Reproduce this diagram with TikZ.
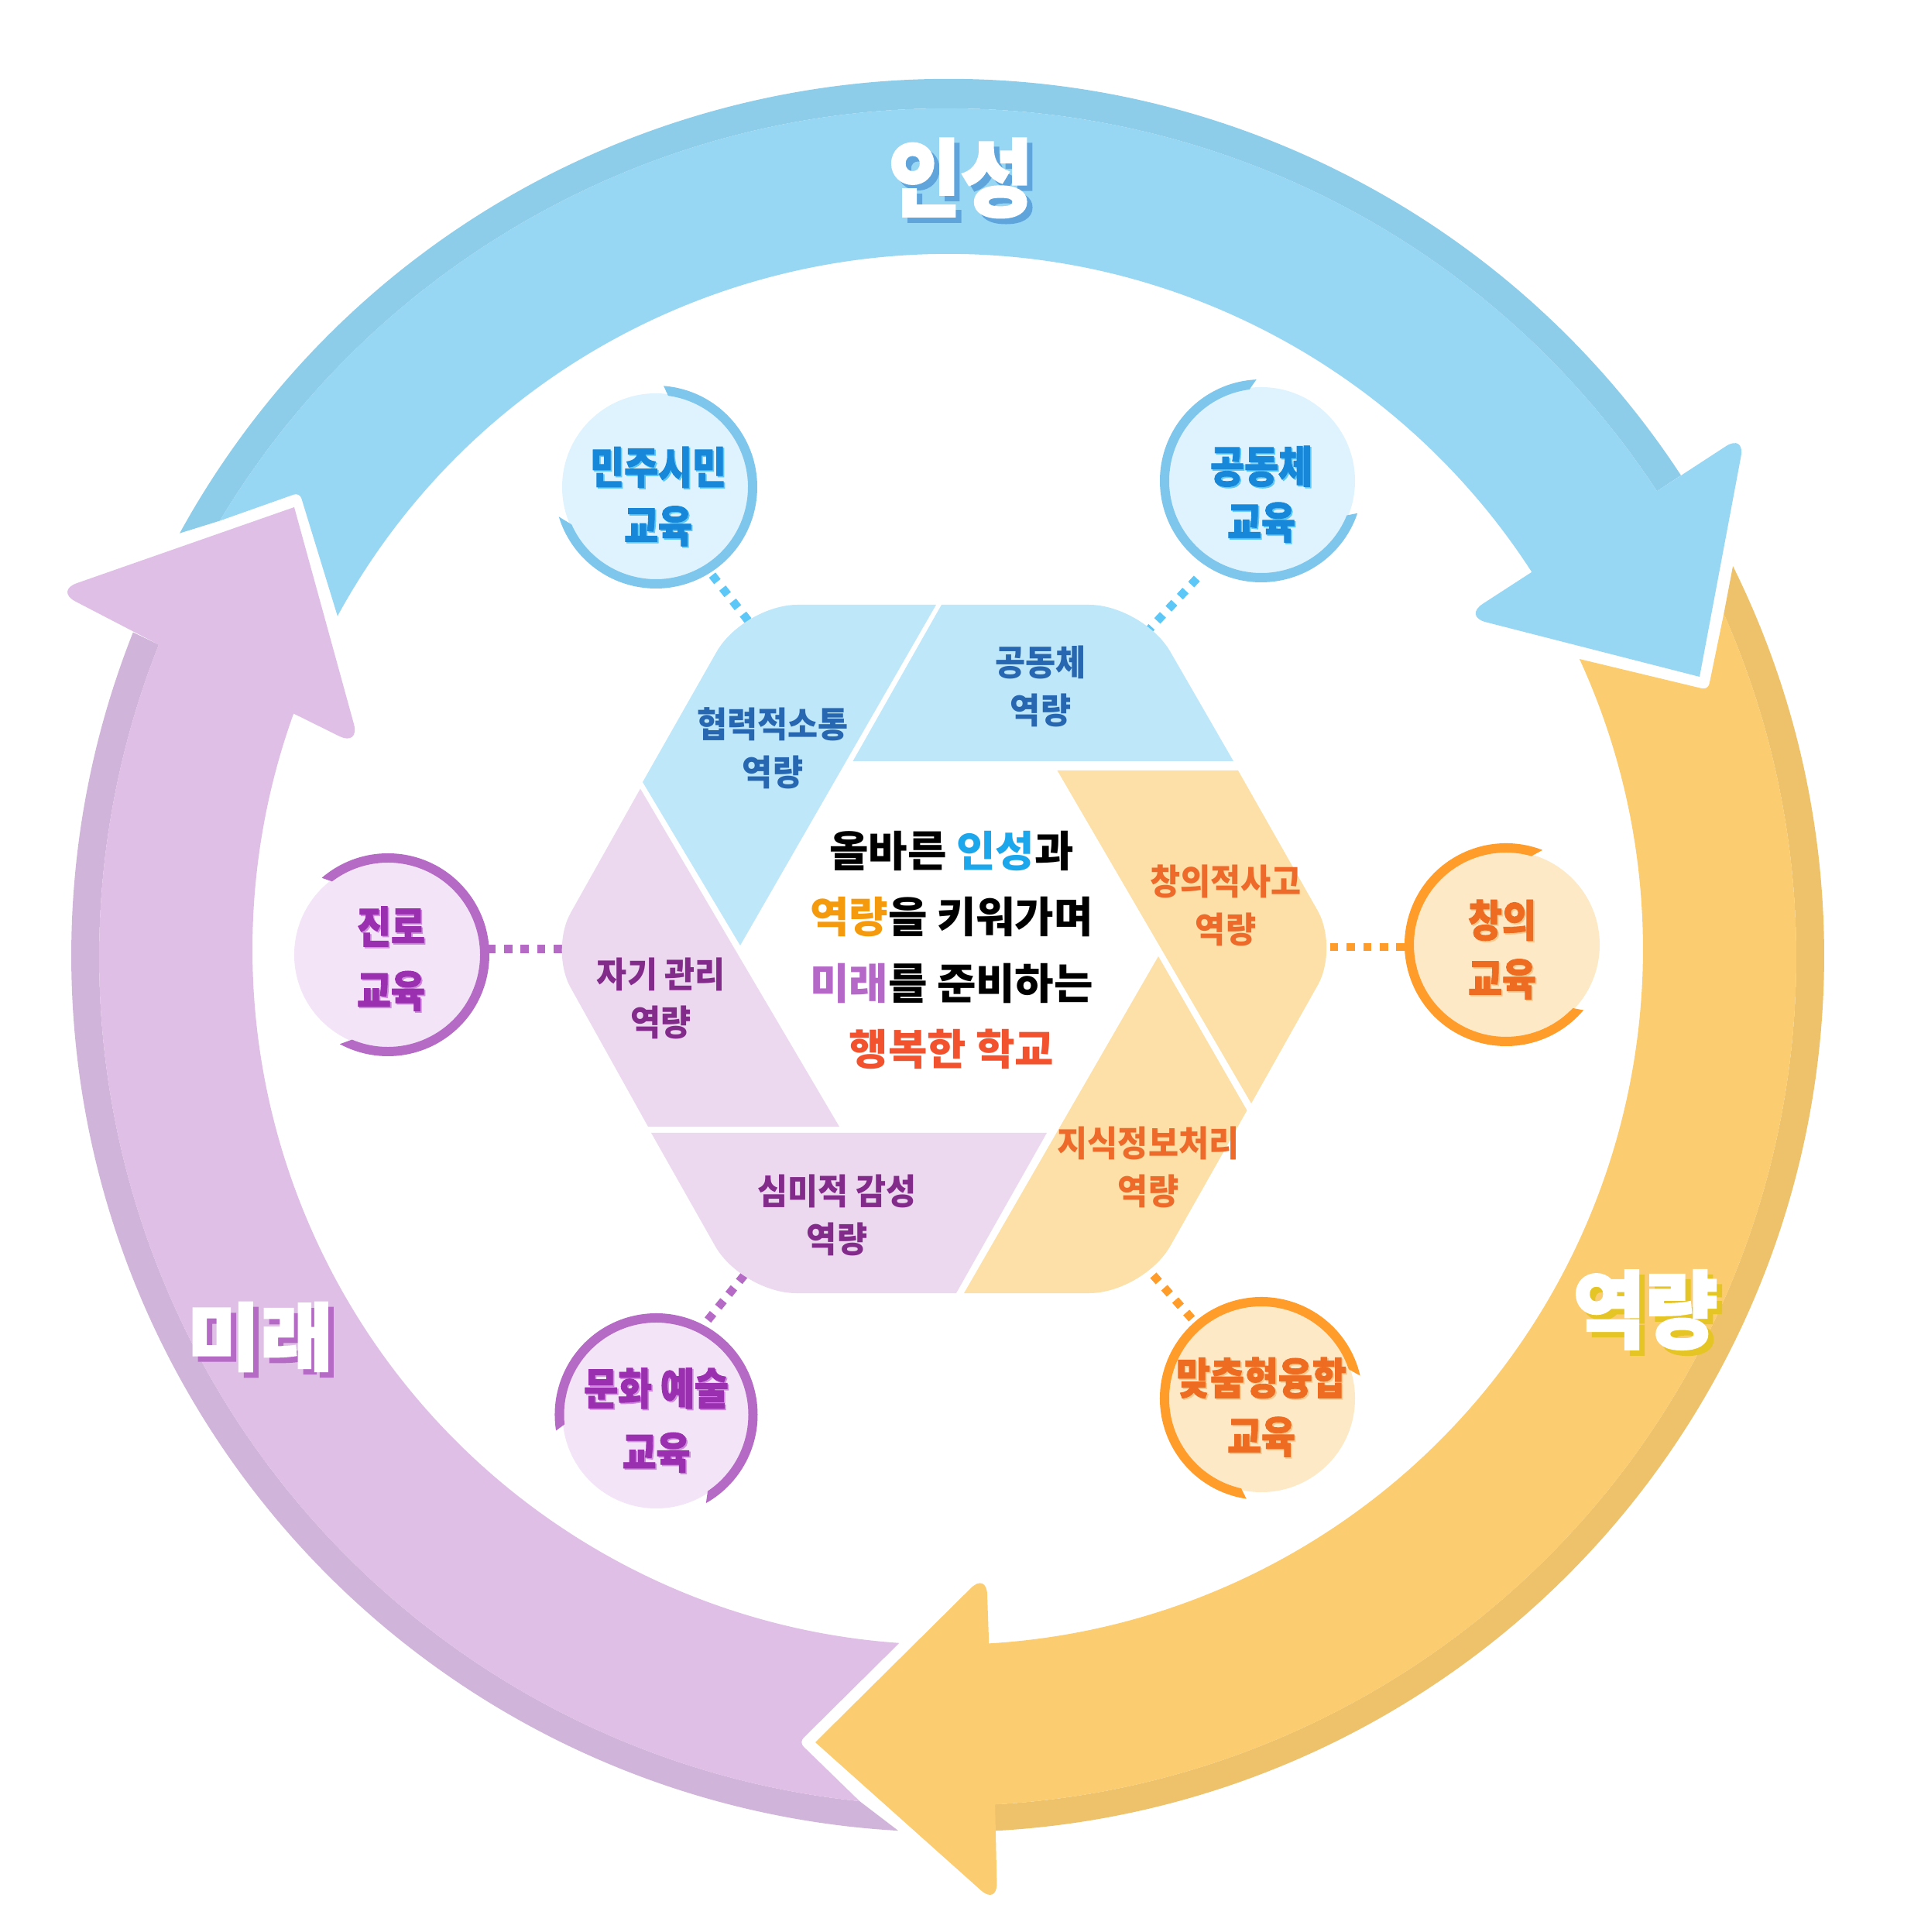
\documentclass[tikz,border=0pt]{standalone}
\usepackage{fontspec}
\setmainfont{Noto Sans CJK KR}
\newfontfamily\krtitle[FakeStretch=.93,FakeBold=2.5]{Noto Sans CJK KR}
\newfontfamily\krtitlewide[FakeStretch=1.08,FakeBold=2.5]{Noto Sans CJK KR}
\newfontfamily\krcirc[FakeStretch=.85,FakeBold=1.5]{Noto Sans CJK KR}
\newfontfamily\krhex[FakeStretch=.93]{Noto Sans CJK KR}
\newfontfamily\krmain{Noto Sans CJK KR}
\definecolor{bluebody}{HTML}{97D7F4}
\definecolor{bluedark}{HTML}{8ECDE9}
\definecolor{yellowbody}{HTML}{FBCC70}
\definecolor{yellowdark}{HTML}{EEC26B}
\definecolor{purplebody}{HTML}{DFBFE6}
\definecolor{purpledark}{HTML}{D1B4DA}
\definecolor{hexblue}{HTML}{BEE7F9}
\definecolor{hexorange}{HTML}{FCE0A8}
\definecolor{hexpurple}{HTML}{ECD9F0}
\definecolor{ringblue}{HTML}{7FC6EC}
\definecolor{ringorange}{HTML}{FF9C2A}
\definecolor{ringpurple}{HTML}{B56BC6}
\definecolor{dotblue}{HTML}{5DC7F8}
\definecolor{circblue}{HTML}{DFF3FE}
\definecolor{circorange}{HTML}{FDE9C6}
\definecolor{circpurple}{HTML}{F3E4F7}
\definecolor{labelblue}{HTML}{1687D9}
\definecolor{labelorange}{HTML}{EE6C22}
\definecolor{labelpurple}{HTML}{9A2FB0}
\definecolor{hexlabelblue}{HTML}{2766B0}
\definecolor{hexlabelorange}{HTML}{EE6A2A}
\definecolor{hexlabelpurple}{HTML}{832B8A}
\definecolor{shadeorange}{HTML}{F9C98E}
\definecolor{shadepurple}{HTML}{CE8BDD}
\definecolor{titleshadeblue}{HTML}{5FA5DC}
\definecolor{titleshadeyellow}{HTML}{E5C526}
\tikzstyle{cin} = [shift={(0,.06)}]
\tikzstyle{cmid} = [shift={(0,-.04)}]
\tikzstyle{cout} = [shift={(0,-.02)}]
\tikzstyle{educircle} = [circle,
minimum size=2.42cm,
inner sep=0pt,
outer sep=0pt]
\tikzstyle{edublue} = [educircle, fill=circblue]
\tikzstyle{eduorange} = [educircle, fill=circorange]
\tikzstyle{edupurple} = [educircle, fill=circpurple]
\tikzstyle{dotline} = [line width=.107cm,
dash pattern=on .107cm off .107cm]
\tikzstyle{titletext} = [font=\krtitle\bfseries\fontsize{31pt}{36pt}\selectfont, text=white]
\tikzstyle{titlewide} = [font=\krtitlewide\bfseries\fontsize{27pt}{32pt}\selectfont, text=white]
\tikzstyle{circtext} = [font=\krcirc\bfseries\fontsize{16pt}{21.5pt}\selectfont, align=center]
\tikzstyle{hextext} = [font=\krhex\bfseries\fontsize{13pt}{17.6pt}\selectfont, align=center]
\tikzstyle{maintext} = [font=\krmain\bfseries\fontsize{15.6pt}{24.3pt}\selectfont, align=center]
\newcommand{\shadowtext}[3]{\leavevmode\rlap{\kern#2\raisebox{-#2}{\textcolor{#1}{#3}}}#3}
\newcommand{\eduring}[6]{\fill[#1] ([shift={(#3:1.31)}]#2.center) arc[start angle=#3,end angle=#4,radius=1.31] -- ([shift={(#6:1.19)}]#2.center) arc[start angle=#6,end angle=#5,radius=1.19] -- cycle;}
\begin{document}
\begin{tikzpicture}
	\useasboundingbox (-12.24,-12.63) rectangle (12.56,12.32);
	
	\fill[bluedark] ([cout]151.2:11.32) arc[start angle=151.2,end angle=33.22,radius=11.32] -- ([cmid]33.3:10.96) arc[start angle=33.3,end angle=149.06,radius=10.96] -- cycle;
	\fill[bluebody] ([cin]151.36:8.98) arc[start angle=151.36,end angle=32.86,radius=8.98] [rounded corners=.3cm] -- (6.66,4.36) [sharp corners] -- (9.71,3.58) [rounded corners=.3cm] -- (10.30,6.72) [sharp corners] -- ([cmid]33.3:10.96) arc[start angle=33.3,end angle=149.06,radius=10.96] [rounded corners=.08cm] -- (-8.37,5.96) [sharp corners] -- cycle;
	
	\fill[yellowdark] ([cout]26.38:11.32) arc[start angle=26.38,end angle=-86.9,radius=11.32] -- ([cmid]-86.8:10.96) arc[start angle=-86.8,end angle=23.86,radius=10.96] -- cycle;
	\fill[yellowbody] ([cin]24.68:8.98) arc[start angle=24.68,end angle=-86.6,radius=8.98] [rounded corners=.28cm] -- (0.50,-7.99) [sharp corners] -- (-1.71,-10.18) [rounded corners=.28cm] -- (0.64,-12.28) [sharp corners] -- ([cmid]-86.8:10.96) arc[start angle=-86.8,end angle=23.86,radius=10.96] [rounded corners=.08cm] -- (9.82,3.41) [sharp corners] -- cycle;
	
	\fill[purpledark] ([cout]266.76:11.32) arc[start angle=266.76,end angle=158.36,radius=11.32] -- ([cmid]158.4:10.96) arc[start angle=158.4,end angle=264.04,radius=10.96] -- cycle;
	\fill[purplebody] ([cin]266:8.98) arc[start angle=266,end angle=160.18,radius=8.98] [rounded corners=.3cm] -- (-7.59,2.68) [sharp corners] -- (-8.44,5.77) [rounded corners=.3cm] -- (-11.53,4.69) [sharp corners] -- ([cmid]158.4:10.96) arc[start angle=158.4,end angle=264.04,radius=10.96] [rounded corners=.08cm] -- (-1.92,-10.18) [sharp corners] -- cycle;
	
	\node (demo) [edublue] at (-3.77,6.03) {};
	\node (comm) [edublue] at (4.05,6.11) {};
	\node (creat) [eduorange] at (7.21,0.12) {};
	\node (fusion) [eduorange] at (4.05,-5.74) {};
	\node (arts) [edupurple] at (-3.765,-5.95) {};
	\node (career) [edupurple] at (-7.23,-0.01) {};
	
	\coordinate (hexdemo) at (-2.55,4.27);
	\coordinate (hexcomm) at (2.49,4.07);
	\coordinate (hexcreat) at (4.88,0.09);
	\coordinate (hexfusion) at (2.46,-3.93);
	\coordinate (hexarts) at (-2.50,-3.99);
	\coordinate (hexcareer) at (-4.9,0.067);
	
	\draw [dotline, dotblue, dash phase=.0725cm] (demo.-58) -- (hexdemo);
	\draw [dotline, dotblue, shorten <=.3065cm] (comm.-121) -- (hexcomm);
	\draw [dotline, ringorange, dash phase=.114cm] (creat.west |- hexcreat) -- (hexcreat);
	\draw [dotline, ringorange, dash phase=.0575cm] (fusion.131) -- (hexfusion);
	\draw [dotline, ringpurple, dash phase=.0275cm] (arts.63.6) -- (hexarts);
	\draw [dotline, ringpurple, dash phase=.138cm] (career.east |- hexcareer) -- (hexcareer);
	
	\fill[hexblue] (-0.15,4.51) -- (-2.68,0.11) -- (-3.94,2.22) [rounded corners=.7cm] -- (-2.64,4.51) [sharp corners] -- cycle;
	\fill[hexblue] (-0.08,4.51) [rounded corners=.7cm] -- (2.525,4.51) [sharp corners] -- (3.69,2.49) -- (-1.225,2.49) -- cycle;
	\fill[hexorange] (1.415,2.37) -- (3.75,2.37) [rounded corners=.55cm] -- (5.05,0.08) [sharp corners] -- (3.92,-1.93) -- cycle;
	\fill[hexorange] (2.72,-0.03) -- (3.865,-2.02) [rounded corners=.7cm] -- (2.53,-4.38) [sharp corners] -- (0.21,-4.38) -- cycle;
	\fill[hexpurple] (-3.83,-2.31) -- (1.28,-2.31) -- (0.11,-4.38) [rounded corners=.7cm] -- (-2.66,-4.38) [sharp corners] -- cycle;
	\fill[hexpurple] (-3.97,2.135) -- (-1.40,-2.23) -- (-3.87,-2.23) [rounded corners=.55cm] -- (-5.14,0.05) [sharp corners] -- cycle;
	
	\eduring{ringblue}{demo}{85.6}{-163}{82.3}{-156}
	\eduring{ringblue}{comm}{92.8}{341.4}{97.4}{338}
	\eduring{ringorange}{creat}{68.9}{319.8}{74}{316.5}
	\eduring{ringorange}{fusion}{13}{261.5}{18.5}{257.4}
	\eduring{ringpurple}{arts}{189}{-60.6}{186}{-56}
	\eduring{ringpurple}{career}{130.7}{-118.3}{127.3}{-112.9}
	
	\node (titleone) [titletext] at (0.17,9.985) {\shadowtext{titleshadeblue}{2pt}{인성}};
	\node (titletwo) [titletext] at (9.01,-4.63) {\shadowtext{titleshadeyellow}{2pt}{역량}};
	\node (titlethree) [titlewide] at (-8.88,-4.98) {\shadowtext{ringpurple}{2pt}{미래}};
	
	\node (demotext) [circtext, text=labelblue] at (-3.74,5.90) {\shadowtext{dotblue}{.5pt}{민주시민}\\\shadowtext{dotblue}{.5pt}{교육}};
	\node (commtext) [circtext, text=labelblue] at (4.05,5.93) {\shadowtext{dotblue}{.5pt}{공동체}\\[-1pt]\shadowtext{dotblue}{.5pt}{교육}};
	\node (creattext) [circtext, text=labelorange] at (7.16,0.05) {\shadowtext{shadeorange}{.5pt}{창의}\\\shadowtext{shadeorange}{.5pt}{교육}};
	\node (fusiontext) [circtext, text=labelorange] at (4.05,-5.86) {\shadowtext{shadeorange}{.5pt}{맞춤형융합}\\\shadowtext{shadeorange}{.5pt}{교육}};
	\node (artstext) [circtext, text=labelpurple] at (-3.765,-6.03) {\shadowtext{shadepurple}{.5pt}{문화 예술}\\[2pt]\shadowtext{shadepurple}{.5pt}{교육}};
	\node (careertext) [circtext, text=labelpurple] at (-7.19,-0.07) {\shadowtext{shadepurple}{.5pt}{진로}\\[2pt]\shadowtext{shadepurple}{.5pt}{교육}};
	
	\node (hexatext) [hextext, text=hexlabelblue] at (-2.26,2.655) {협력적소통\\역량};
	\node (hexbtext) [hextext, text=hexlabelblue] at (1.20,3.46) {공동체\\역량};
	\node (hexctext) [hextext, text=hexlabelorange] at (3.59,0.63) {창의적사고\\역량};
	\node (hexdtext) [hextext, text=hexlabelorange] at (2.59,-2.75) {지식정보처리\\역량};
	\node (hexetext) [hextext, text=hexlabelpurple] at (-1.43,-3.37) {심미적 감성\\역량};
	\node (hexftext) [hextext, text=hexlabelpurple] at (-3.70,-0.57) {자기 관리\\역량};
	
	\node (mainmsg) [maintext] at (0.05,0.05) {올바른 \textcolor[HTML]{1CA6EC}{인성}과\\\textcolor[HTML]{F59A0C}{역량}을 키워가며\\\textcolor[HTML]{B568C8}{미래}를 준비하는\\\textcolor[HTML]{F2532E}{행복한 학교}};
\end{tikzpicture}
\end{document}
